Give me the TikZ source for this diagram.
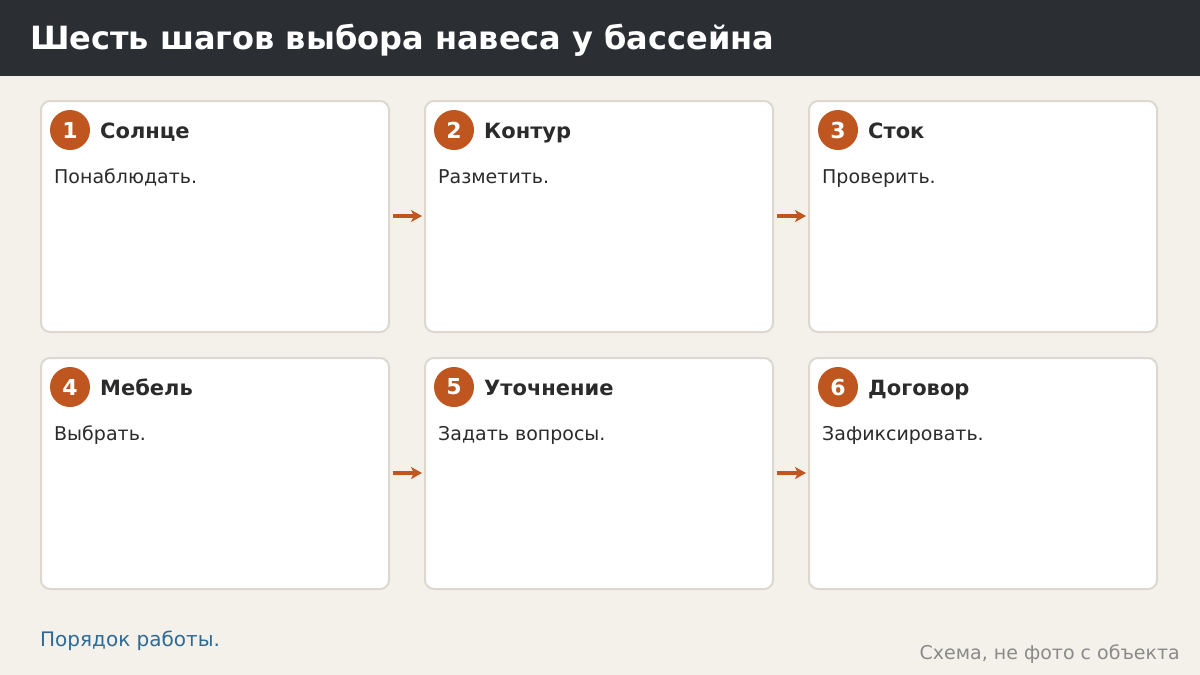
\documentclass[tikz,border=0pt]{standalone}
\usepackage{fontspec}
\setmainfont{DejaVu Sans}
\usetikzlibrary{arrows.meta}
\definecolor{bg}{HTML}{F4F1EA}
\definecolor{hdr}{HTML}{2B2E33}
\definecolor{cardb}{HTML}{DDD8CF}
\definecolor{accent}{HTML}{C0561F}
\definecolor{ink}{HTML}{2B2B2B}
\definecolor{link}{HTML}{2E6A96}
\definecolor{note}{HTML}{8A8A8A}
\tikzset{
  card/.style={draw=cardb, line width=2pt, fill=white, rounded corners=9pt},
  badge/.style={circle, fill=accent, minimum size=40pt, inner sep=0pt, text=white, font=\fontsize{22}{24}\selectfont\bfseries},
  ctitle/.style={anchor=base west, inner sep=0pt, text=ink, font=\fontsize{21}{24}\selectfont\bfseries},
  cbody/.style={anchor=base west, inner sep=0pt, text=ink, font=\fontsize{19}{22}\selectfont},
  flow/.style={draw=accent, line width=3.5pt, -{Stealth[length=11pt,width=12pt,inset=3pt]}},
}
\begin{document}
\begin{tikzpicture}[x=1pt,y=-1pt]
\useasboundingbox (0,0) rectangle (1200,675);
\fill[bg] (0,0) rectangle (1200,675);
\fill[hdr] (0,0) rectangle (1200,76);
\node[anchor=base west, inner sep=0pt, text=white, font=\fontsize{32}{36}\selectfont\bfseries] (title) at (30,49) {Шесть шагов выбора навеса у бассейна};

% row 1
\draw[card] (41,101) rectangle (389,332); \coordinate (c1e) at (389,216);
\draw[card] (425,101) rectangle (773,332); \coordinate (c2w) at (425,216); \coordinate (c2e) at (773,216);
\draw[card] (809,101) rectangle (1157,332); \coordinate (c3w) at (809,216);
% row 2
\draw[card] (41,358) rectangle (389,589); \coordinate (c4e) at (389,473);
\draw[card] (425,358) rectangle (773,589); \coordinate (c5w) at (425,473); \coordinate (c5e) at (773,473);
\draw[card] (809,358) rectangle (1157,589); \coordinate (c6w) at (809,473);

\node[badge] (b1) at (70,130) {1};
\node[ctitle] (t1) at (100,138) {Солнце};
\node[cbody] (d1) at (54,183) {Понаблюдать.};
\node[badge] (b2) at (454,130) {2};
\node[ctitle] (t2) at (484,138) {Контур};
\node[cbody] (d2) at (438,183) {Разметить.};
\node[badge] (b3) at (838,130) {3};
\node[ctitle] (t3) at (868,138) {Сток};
\node[cbody] (d3) at (822,183) {Проверить.};
\node[badge] (b4) at (70,387) {4};
\node[ctitle] (t4) at (100,395) {Мебель};
\node[cbody] (d4) at (54,440) {Выбрать.};
\node[badge] (b5) at (454,387) {5};
\node[ctitle] (t5) at (484,395) {Уточнение};
\node[cbody] (d5) at (438,440) {Задать вопросы.};
\node[badge] (b6) at (838,387) {6};
\node[ctitle] (t6) at (868,395) {Договор};
\node[cbody] (d6) at (822,440) {Зафиксировать.};

\draw[flow] ([xshift=4pt]c1e) -- ([xshift=-3pt]c2w);
\draw[flow] ([xshift=4pt]c2e) -- ([xshift=-3pt]c3w);
\draw[flow] ([xshift=4pt]c4e) -- ([xshift=-3pt]c5w);
\draw[flow] ([xshift=4pt]c5e) -- ([xshift=-3pt]c6w);

\node[anchor=base west, inner sep=0pt, text=link, font=\fontsize{20}{22}\selectfont] (foot) at (40,646) {Порядок работы.};
\node[anchor=base east, inner sep=0pt, text=note, font=\fontsize{19}{20}\selectfont] (src) at (1180,659) {Схема, не фото с объекта};
\end{tikzpicture}
\end{document}
